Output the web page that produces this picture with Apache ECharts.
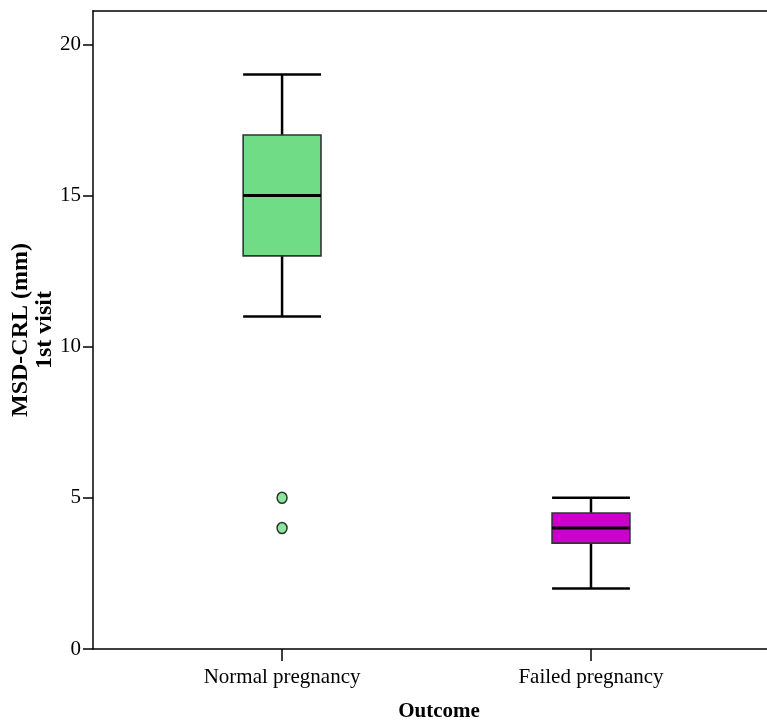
<!DOCTYPE html>
<html>
<head>
<meta charset="utf-8">
<script src="https://cdn.jsdelivr.net/npm/echarts@6/dist/echarts.min.js"></script>
<style>
html, body { margin: 0; background: #fff; }
#main { width: 767px; height: 721px; }
</style>
</head>
<body>
<div id="main"></div>
<script>
var categories = ['Normal pregnancy', 'Failed pregnancy'];
var boxColors = ['#70dd86', '#cc00cc'];
// min, Q1, median, Q3, max
var boxValues = [
    [11, 13, 15, 17, 19],
    [2, 3.5, 4, 4.5, 5]
];
// category index, value
var outliers = [[0, 5], [0, 4]];
var yTicks = [0, 5, 10, 15, 20];

var FONT = '"Liberation Serif", "Times New Roman", serif';

// category i sits at x = i + 1 on the value axis
var boxData = boxValues.map(function (b, i) {
    return [i + 1].concat(b);
});
var outlierData = outliers.map(function (o) {
    return [o[0] + 1, o[1]];
});
var catPositions = categories.map(function (c, i) { return i + 1; });

function renderBox(params, api) {
    var x = api.value(0);
    var half = api.size([0.252, 0])[0] / 2;
    var pMin = api.coord([x, api.value(1)]);
    var pQ1 = api.coord([x, api.value(2)]);
    var pMed = api.coord([x, api.value(3)]);
    var pQ3 = api.coord([x, api.value(4)]);
    var pMax = api.coord([x, api.value(5)]);
    var cx = pMin[0];
    var line = { stroke: '#000', lineWidth: 2.5 };
    return {
        type: 'group',
        children: [
            { type: 'line', shape: { x1: cx, y1: pMax[1], x2: cx, y2: pQ3[1] }, style: line },
            { type: 'line', shape: { x1: cx, y1: pQ1[1], x2: cx, y2: pMin[1] }, style: line },
            { type: 'line', shape: { x1: cx - half, y1: pMax[1], x2: cx + half, y2: pMax[1] }, style: line },
            { type: 'line', shape: { x1: cx - half, y1: pMin[1], x2: cx + half, y2: pMin[1] }, style: line },
            {
                type: 'rect',
                shape: { x: cx - half, y: pQ3[1], width: half * 2, height: pQ1[1] - pQ3[1] },
                style: { fill: boxColors[params.dataIndex], stroke: '#333', lineWidth: 1.6 }
            },
            { type: 'line', shape: { x1: cx - half, y1: pMed[1], x2: cx + half, y2: pMed[1] },
              style: { stroke: '#000', lineWidth: 3 } }
        ]
    };
}

var chart = echarts.init(document.getElementById('main'));
chart.setOption({
    animation: false,
    backgroundColor: '#fff',
    grid: { left: 93, top: 11, right: -18, bottom: 72, containLabel: false, outerBoundsMode: 'none' },
    xAxis: [{
        type: 'value',
        min: 0.388,
        max: 2.628,
        name: 'Outcome',
        nameLocation: 'middle',
        nameGap: 52,
        nameTextStyle: { fontFamily: FONT, fontSize: 21, fontWeight: 'bold', color: '#000' },
        splitLine: { show: false },
        axisLine: { lineStyle: { color: '#000', width: 1.5 } },
        axisTick: { length: 12, customValues: catPositions, lineStyle: { color: '#000', width: 1.5 } },
        axisLabel: {
            customValues: catPositions,
            margin: 18,
            fontFamily: FONT, fontSize: 21, color: '#000',
            formatter: function (v) { return categories[Math.round(v) - 1]; }
        }
    }, {
        type: 'value',
        position: 'top',
        min: 0.388,
        max: 2.628,
        splitLine: { show: false },
        axisLine: { show: true, lineStyle: { color: '#000', width: 1.5 } },
        axisTick: { show: false },
        axisLabel: { show: false }
    }],
    yAxis: {
        type: 'value',
        min: 0,
        max: 21.1,
        interval: 5,
        name: 'MSD-CRL (mm)\n1st visit',
        nameLocation: 'middle',
        nameGap: 36,
        nameMoveOverlap: false,
        nameTextStyle: { fontFamily: FONT, fontSize: 24, fontWeight: 'bold', color: '#000', lineHeight: 24 },
        splitLine: { show: false },
        axisLine: { show: true, lineStyle: { color: '#000', width: 1.5 } },
        axisTick: { length: 10, customValues: yTicks, lineStyle: { color: '#000', width: 1.5 } },
        axisLabel: { customValues: yTicks, margin: 12, fontFamily: FONT, fontSize: 21, color: '#000' }
    },
    series: [{
        type: 'custom',
        renderItem: renderBox,
        data: boxData,
        encode: { x: 0, y: [1, 2, 3, 4, 5] }
    }, {
        type: 'scatter',
        data: outlierData,
        symbol: 'circle',
        symbolSize: [10, 11],
        itemStyle: { color: boxColors[0], borderColor: '#000', borderWidth: 1.5 }
    }]
});
</script>
</body>
</html>
